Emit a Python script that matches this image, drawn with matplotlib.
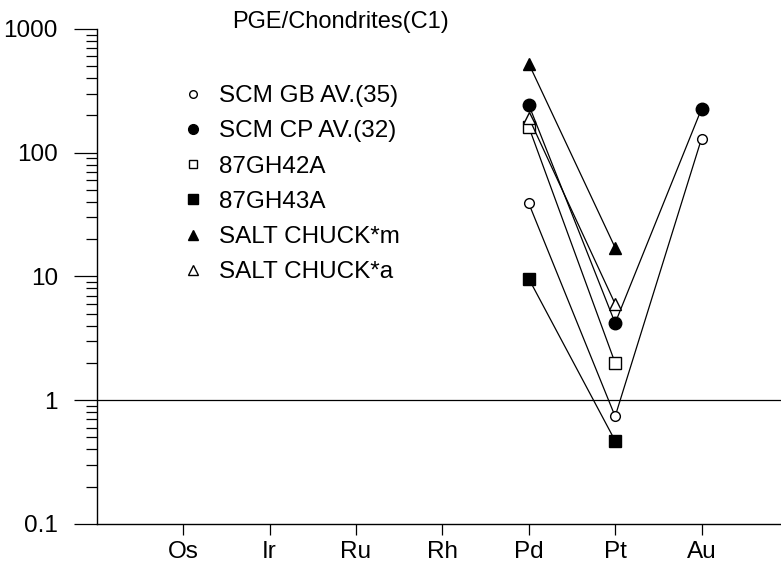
import matplotlib
matplotlib.use("Agg")
import matplotlib.pyplot as plt
from matplotlib.lines import Line2D
import numpy as np

plt.rcParams['font.family'] = ['Liberation Sans', 'DejaVu Sans']

elements = ["Os", "Ir", "Ru", "Rh", "Pd", "Pt", "Au"]

series_names = ["SCM GB AV.(35)", "SCM CP AV.(32)", "87GH42A", "87GH43A",
                "SALT CHUCK*m", "SALT CHUCK*a"]

# values per element (None = not determined)
scm_gb = [None, None, None, None, 39, 0.74, 130]
scm_cp = [None, None, None, None, 244, 4.2, 226]
gh42a = [None, None, None, None, 162, 2.0, None]
gh43a = [None, None, None, None, 9.6, 0.47, None]
salt_m = [None, None, None, None, 525, 17.1, None]
salt_a = [None, None, None, None, 192, 6.0, None]

y_ticks = [0.1, 1, 10, 100, 1000]
y_tick_labels = ["0.1", "1", "10", "100", "1000"]

styles = [
    dict(marker='o', mfc='white', ms=7.0, lms=5.5),
    dict(marker='o', mfc='black', ms=9.0, lms=7.0),
    dict(marker='s', mfc='white', ms=8.0, lms=6.0),
    dict(marker='s', mfc='black', ms=8.5, lms=7.0),
    dict(marker='^', mfc='black', ms=8.5, lms=7.0),
    dict(marker='^', mfc='white', ms=8.5, lms=6.5),
]

all_series = [scm_gb, scm_cp, gh42a, gh43a, salt_m, salt_a]

fig = plt.figure(figsize=(7.81, 5.64), dpi=100)
ax = fig.add_axes([0.124, 0.071, 0.876, 0.8776])

xpos = np.arange(1, len(elements) + 1)
for vals, st in zip(all_series, styles):
    xs = [x for x, v in zip(xpos, vals) if v is not None]
    ys = [v for v in vals if v is not None]
    ax.plot(xs, ys, color='black', lw=0.9, marker=st['marker'],
            mfc=st['mfc'], mec='black', ms=st['ms'], mew=1.0, zorder=3)

ax.set_yscale('log')
ax.set_ylim(0.1, 1000)
ax.set_xlim(0.0, 7.92)
ax.axhline(1, color='black', lw=0.9, zorder=1)

ax.spines['top'].set_visible(False)
ax.spines['right'].set_visible(False)
ax.spines['left'].set_linewidth(1.0)
ax.spines['bottom'].set_linewidth(1.0)

ax.set_yticks(y_ticks)
ax.set_yticklabels(y_tick_labels)
ax.set_xticks(xpos)
ax.set_xticklabels(elements)
ax.tick_params(axis='y', which='major', length=16.5, width=0.9, pad=11.5, labelsize=17.5)
ax.tick_params(axis='y', which='minor', length=8, width=0.9)
ax.tick_params(axis='x', which='major', length=8, width=0.9, pad=4, labelsize=17.5)
ax.tick_params(axis='x', which='minor', bottom=False)

handles = [Line2D([], [], ls='none', marker=st['marker'], mfc=st['mfc'],
                  mec='black', ms=st['lms'], mew=1.0) for st in styles]
ax.legend(handles, series_names, loc='upper left',
          bbox_to_anchor=(181 / 781, 1 - 85 / 564), bbox_transform=fig.transFigure,
          frameon=False, fontsize=17.5, handlelength=1.0, handletextpad=0.56,
          borderpad=0, borderaxespad=0, labelspacing=0.545)

fig.text(341 / 781, 1 - 22 / 564, "PGE/Chondrites(C1)", ha='center', va='center',
         fontsize=17)

fig.savefig("out.png", dpi=100)
